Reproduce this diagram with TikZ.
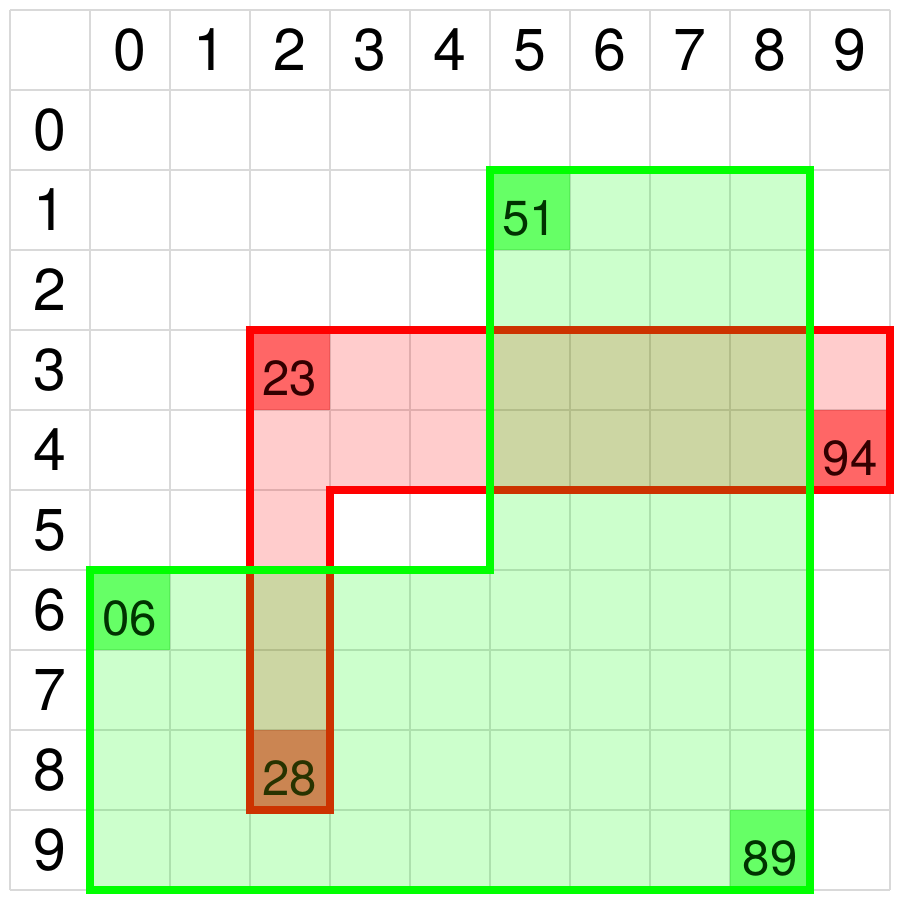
\documentclass[tikz,border=0pt]{standalone}
\usepackage{fontspec}
\setmainfont{TeX Gyre Heros}
\begin{document}
\begin{tikzpicture}[
    x=1cm, y=-1cm,
    gridline/.style={draw=black!15, line width=0.8pt},
    head/.style={font=\fontsize{21}{25}\selectfont, inner sep=0pt},
    key/.style={font=\fontsize{17.5}{20}\selectfont, inner sep=0pt, yshift=-0.1cm},
    redzone/.style={fill=red, fill opacity=0.2},
    greenzone/.style={fill=green, fill opacity=0.2},
    redhit/.style={fill=red, fill opacity=0.5},
    greenhit/.style={fill=green, fill opacity=0.5},
    redline/.style={draw=red, line width=0.1cm},
    greenline/.style={draw=green, line width=0.1cm}
]
\useasboundingbox (-0.125,-0.125) rectangle (11.125,11.125);
% Grid
\draw[gridline] (0,0) grid (11,11);
% Headers
\foreach \i in {0,...,9} {
  \node[head] (col\i) at (\i+1.5,0.5) {\i};
  \node[head] (row\i) at (0.5,\i+1.5) {\i};
}
% Marked cells
\fill[redhit] (3,4) rectangle (4,5);
\fill[redhit] (10,5) rectangle (11,6);
\fill[redhit] (3,9) rectangle (4,10);
\fill[greenhit] (6,2) rectangle (7,3);
\fill[greenhit] (1,7) rectangle (2,8);
\fill[greenhit] (9,10) rectangle (10,11);
% Keys
\node[key] (k51) at (6.5,2.5) {51};
\node[key] (k23) at (3.5,4.5) {23};
\node[key] (k94) at (10.5,5.5) {94};
\node[key] (k06) at (1.5,7.5) {06};
\node[key] (k28) at (3.5,9.5) {28};
\node[key] (k89) at (9.5,10.5) {89};
% Red area
\fill[redzone] (3,4) -- (11,4) -- (11,6) -- (4,6) -- (4,10) -- (3,10) -- cycle;
\draw[redline] (3,4) -- (11,4) -- (11,6) -- (4,6) -- (4,10) -- (3,10) -- cycle;
% Green area
\fill[greenzone] (6,2) -- (10,2) -- (10,11) -- (1,11) -- (1,7) -- (6,7) -- cycle;
\draw[greenline] (6,2) -- (10,2) -- (10,11) -- (1,11) -- (1,7) -- (6,7) -- cycle;
\end{tikzpicture}
\end{document}
